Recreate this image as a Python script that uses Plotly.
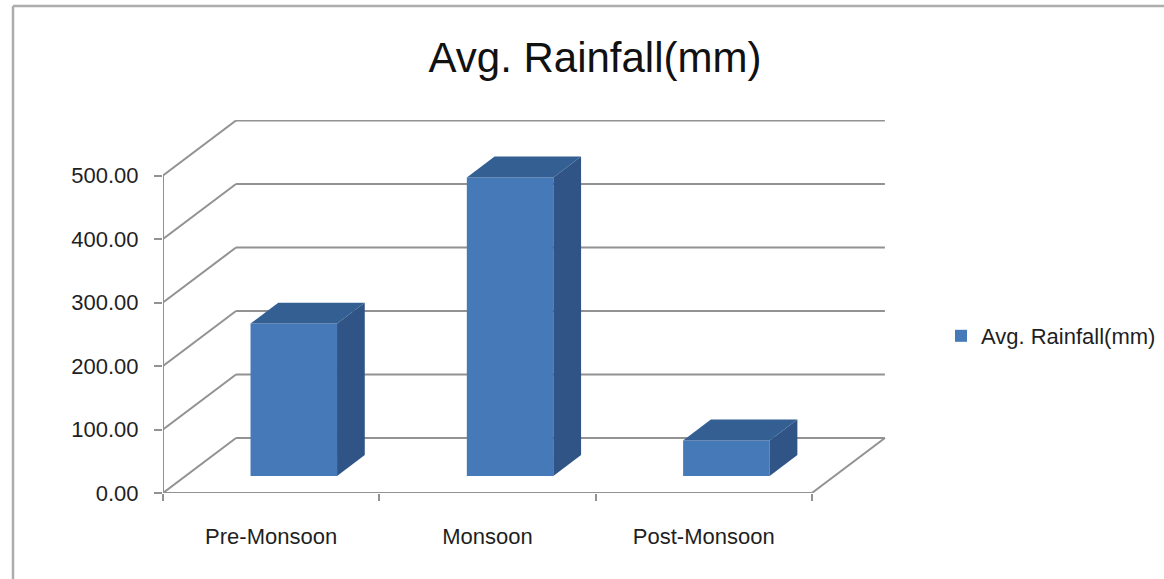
import plotly.graph_objects as go

categories = ["Pre-Monsoon", "Monsoon", "Post-Monsoon"]
rainfall = [240, 470, 56]
y_ticks = [0, 100, 200, 300, 400, 500]
series_name = "Avg. Rainfall(mm)"

W, H = 1164, 579
L, R, T, B = 163, 278, 120, 86
unit_x = 216.3
unit_y = 0.635
plot_w = W - L - R
plot_h = H - T - B
DX = 73 / unit_x
DY = 55 / unit_y
BAR_W = 0.4
Z0, Z1 = 0.31, 0.69
GRID = "#929292"
FRONT, SIDE, TOP = "#4679b8", "#2f5485", "#345f92"
TEXT = "#1f1f1f"
FONT = "Liberation Sans"
n = len(categories)


def proj(x, v, z):
    return x + z * DX, v + z * DY


shapes = []


def seg(p, q, color=GRID, width=2, xref="x", yref="y"):
    shapes.append(dict(type="line", xref=xref, yref=yref, layer="below",
                       x0=p[0], y0=p[1], x1=q[0], y1=q[1],
                       line=dict(color=color, width=width)))


for v in y_ticks:
    seg(proj(0, v, 0), proj(0, v, 1))
    seg(proj(0, v, 1), proj(n, v, 1))
seg(proj(n, 0, 0), proj(n, 0, 1))
seg(proj(0, 0, 0), proj(n, 0, 0))
seg(proj(0, 0, 0), proj(0, y_ticks[-1], 0))

# outer picture frame
fx = lambda px: (px - L) / plot_w
fy = lambda py: 1 - (py - T) / plot_h
seg((fx(13), fy(6)), (fx(1164), fy(6)), "#adadad", 2.5, "paper", "paper")
seg((fx(13), fy(6)), (fx(13), fy(579)), "#adadad", 2.5, "paper", "paper")

fig = go.Figure()

cx = [i + 0.5 for i in range(n)]
x0s = [c - BAR_W / 2 for c in cx]
x1s = [c + BAR_W / 2 for c in cx]

fig.add_trace(go.Bar(
    x=[proj(c, 0, Z0)[0] for c in cx],
    y=rainfall,
    base=[proj(0, 0, Z0)[1]] * n,
    width=BAR_W,
    marker=dict(color=FRONT, line=dict(width=0)),
    name=series_name,
    showlegend=True,
    hoverinfo="skip",
))

for a, b, v in zip(x0s, x1s, rainfall):
    side = [proj(b, 0, Z0), proj(b, 0, Z1), proj(b, v, Z1), proj(b, v, Z0), proj(b, 0, Z0)]
    top = [proj(a, v, Z0), proj(b, v, Z0), proj(b, v, Z1), proj(a, v, Z1), proj(a, v, Z0)]
    for poly, col in ((side, SIDE), (top, TOP)):
        fig.add_trace(go.Scatter(
            x=[p[0] for p in poly], y=[p[1] for p in poly],
            mode="lines", fill="toself", fillcolor=col,
            line=dict(width=0, color=col),
            showlegend=False, hoverinfo="skip",
        ))

fig.update_layout(
    width=W, height=H,
    margin=dict(l=L, r=R, t=T, b=B, autoexpand=False),
    paper_bgcolor="white", plot_bgcolor="rgba(0,0,0,0)",
    font=dict(family=FONT, size=22, color=TEXT),
    title=dict(text=series_name, font=dict(size=42, color="#111111"),
               x=fx(595), xref="paper", xanchor="center",
               y=1 - 57 / H, yref="container", yanchor="middle"),
    xaxis=dict(
        range=[0, plot_w / unit_x], tickmode="array",
        tickvals=cx, ticktext=categories, ticks="", showgrid=False,
        zeroline=False, showline=False, ticklabelstandoff=28, fixedrange=True,
        minor=dict(tickmode="array", tickvals=list(range(n + 1)), ticks="outside",
                   ticklen=7, tickwidth=2, tickcolor=GRID, showgrid=False),
    ),
    yaxis=dict(
        range=[0, plot_h / unit_y], tickmode="array", tickvals=y_ticks,
        tickformat=".2f", ticks="outside", ticklen=8, tickwidth=2, tickcolor=GRID,
        showgrid=False, zeroline=False, showline=False, ticklabelstandoff=11,
        fixedrange=True,
    ),
    legend=dict(x=fx(941), y=fy(336), xanchor="left", yanchor="middle",
                font=dict(size=22, color=TEXT), bgcolor="rgba(0,0,0,0)"),
    showlegend=True,
    shapes=shapes,
)

fig.write_html("out.html", config=dict(displayModeBar=False),
               post_script="document.body.style.margin='0';")
